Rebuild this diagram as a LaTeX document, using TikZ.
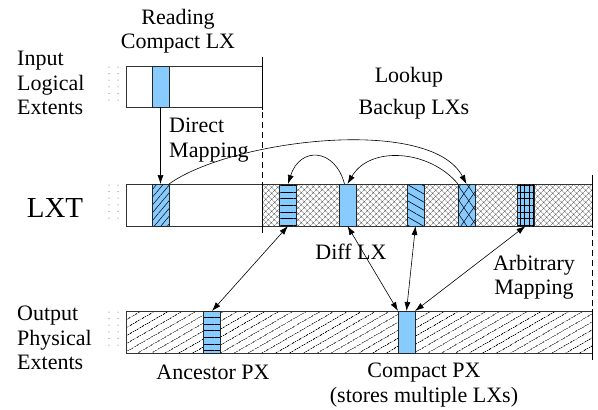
\documentclass[tikz,border=0pt]{standalone}
\usepackage{fontspec}
\setmainfont{Liberation Serif}
\usetikzlibrary{patterns,patterns.meta,arrows.meta}
\definecolor{lblue}{HTML}{88CCFF}
\begin{document}
\begin{tikzpicture}[x=1pt,y=-1pt,
  txt/.style={inner sep=0pt, font=\fontsize{22}{24.5}\selectfont},
  blk/.style={draw=black!85, line width=0.8pt, minimum width=17pt, minimum height=42pt, inner sep=0pt, outer sep=0pt, preaction={fill=lblue}},
  boxline/.style={draw=black!80, line width=0.8pt},
  tip/.style={-{Latex[length=9pt,width=6pt]}},
  dtip/.style={{Latex[length=9pt,width=6pt]}-{Latex[length=9pt,width=6pt]}},
  conn/.style={line width=0.6pt},
  dotcol/.style={line width=1pt, line cap=round, dash pattern=on 0pt off 6.6pt, draw=black!70},
  sep/.style={line width=0.9pt}
]
\useasboundingbox (0,0) rectangle (598,410);

% --- dots at left of boxes
\foreach \y in {66,184,311}{
  \draw[dotcol] (109,\y+1) -- (109,\y+40);
  \draw[dotcol] (118,\y+1) -- (118,\y+40);
}

% --- input box
\draw[boxline] (126,66) rectangle (262,107);

% --- LXT box
\fill[pattern={Hatch[angle=45,distance=4pt,line width=0.45pt]}, pattern color=black!70] (262,184) rectangle (592,226);
\draw[boxline] (126,184) rectangle (592,226);

% --- output box
\fill[pattern={Lines[angle=30,distance=6.5pt,line width=0.55pt]}, pattern color=black] (126,311) rectangle (592,353);
\draw[boxline] (126,311) rectangle (592,353);

% --- separators
\draw[sep] (262,57) -- (262,110);
\draw[sep, dash pattern=on 6pt off 4pt] (262,112) -- (262,182);
\draw[sep] (262,182) -- (262,233);
\draw[sep] (592,175) -- (592,228);
\draw[sep, dash pattern=on 6pt off 4pt] (592,230) -- (592,309);
\draw[sep] (592,309) -- (592,360);

% --- blocks
\node[blk, minimum height=41pt] (inb) at (160.5,86.5) {};
\node[blk, pattern={Lines[angle=50,distance=5pt,line width=0.5pt]}] (lb) at (160.5,205) {};
\node[blk, pattern={Lines[angle=0,distance=6.6pt,line width=0.8pt]}] (b1) at (288,205) {};
\node[blk] (b2) at (347.5,205) {};
\node[blk, pattern={Lines[angle=-30,distance=7pt,line width=0.6pt]}] (b3) at (415.5,205) {};
\node[blk, pattern={Lines[angle=55,distance=8pt,line width=0.5pt]}, postaction={pattern={Lines[angle=-55,distance=8pt,line width=0.5pt]}}] (b4) at (466.5,205) {};
\node[blk, pattern={Lines[angle=0,distance=6.6pt,line width=0.7pt]}, postaction={pattern={Lines[angle=90,distance=4.3pt,line width=0.7pt]}}] (b5) at (525.5,205) {};
\node[blk, pattern={Lines[angle=0,distance=6.6pt,line width=0.8pt]}] (anc) at (212,332) {};
\node[blk] (cpx) at (406.5,332) {};

% --- texts
\node[txt, anchor=north, align=center] (treading) at (178,9) {Reading\\Compact LX};
\node[txt, anchor=north west, align=left] (tinput) at (17,51) {Input\\Logical\\Extents};
\node[txt, anchor=north] (tlookup) at (409,67) {Lookup};
\node[txt, anchor=north] (tbackup) at (414,99) {Backup LXs};
\node[txt, anchor=north west, align=left] (tdirect) at (169,118) {Direct\\Mapping};
\node[inner sep=0pt, font=\fontsize{29}{32}\selectfont] (tlxt) at (55,208) {LXT};
\node[txt] (tdiff) at (351,252) {Diff LX};
\node[txt, anchor=north, align=center] (tarb) at (534,255) {Arbitrary\\Mapping};
\node[txt, anchor=north west, align=left] (toutput) at (17,306) {Output\\Physical\\Extents};
\node[txt, anchor=north] (tanc) at (213,365) {Ancestor PX};
\node[txt, anchor=north, align=center] (tcpx) at (424,363) {Compact PX\\(stores multiple LXs)};

% --- connectors
\draw[conn,tip] (inb.south) -- (lb.north);
\draw[conn,tip] (lb.north east) .. controls (230,140) and (430,115) .. (b4.north);
\draw[conn,tip] ([xshift=-3pt]b2.north) .. controls (335,148) and (300,146) .. (b1.north);
\draw[conn,tip] (b4.north west) .. controls (430,150) and (370,145) .. (b2.north);
\draw[conn,dtip] (b1.south) -- (anc.north);
\draw[conn,dtip] (b2.south) -- (cpx.north west);
\draw[conn,dtip] (b3.south) -- (cpx.north);
\draw[conn,dtip] (b5.south) -- (cpx.north east);
\end{tikzpicture}
\end{document}
